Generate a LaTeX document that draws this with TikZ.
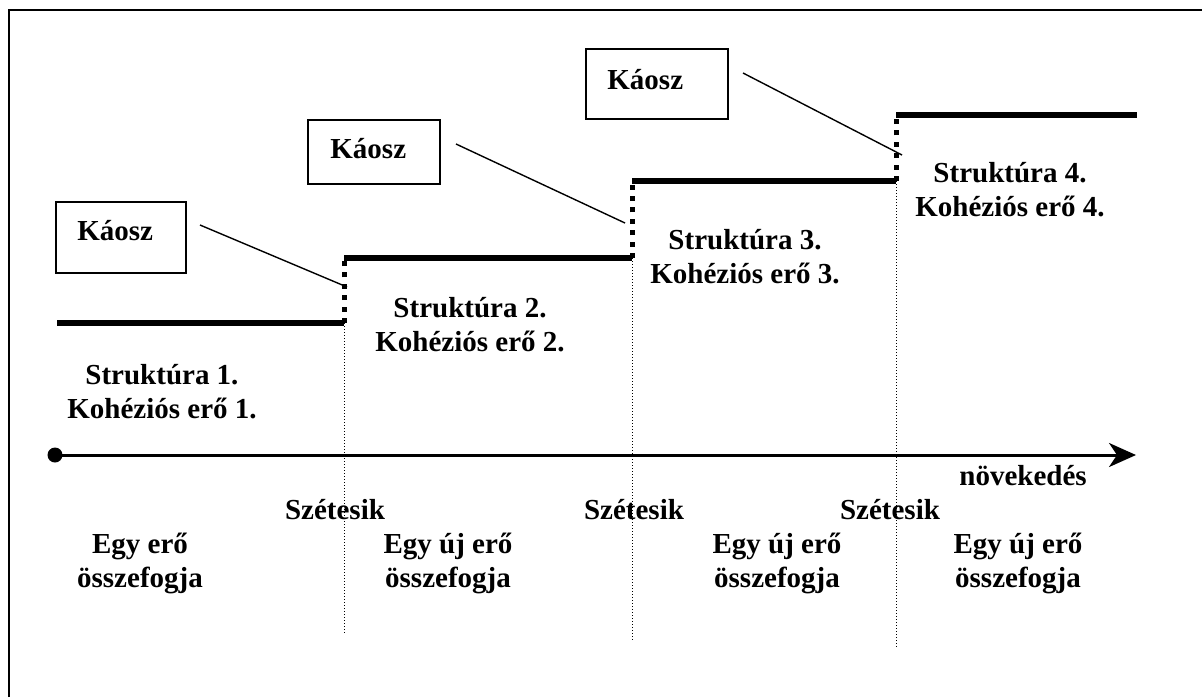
\documentclass[tikz,border=0pt]{standalone}
\usepackage{fontspec}
\setmainfont{Liberation Serif}
\usetikzlibrary{arrows.meta}
\begin{document}
\begin{tikzpicture}[x=0.5pt,y=-0.5pt,
  txt/.style={font=\fontsize{14.5pt}{17pt}\selectfont\bfseries, align=center, anchor=base, inner sep=0pt},
  ktxt/.style={font=\fontsize{14.5pt}{17pt}\selectfont\bfseries, anchor=base west, inner sep=0pt},
  kbox/.style={draw, line width=0.75pt, inner sep=0pt},
  level/.style={line width=3pt},
  stepline/.style={line width=2.5pt, dash pattern=on 2.5pt off 3.2pt},
  guide/.style={line width=0.5pt, dash pattern=on 0.5pt off 1pt},
  pointer/.style={line width=0.7pt},
  frameline/.style={line width=1pt}]
\useasboundingbox (0,0) rectangle (1202,697);
% frame
\draw[frameline] (8.5,697) -- (8.5,10) -- (1202,10);

% level coordinates
\coordinate (l1a) at (57,323);
\coordinate (l1b) at (344,323);
\coordinate (l2a) at (344,258);
\coordinate (l2b) at (632,258);
\coordinate (l3a) at (632,181);
\coordinate (l3b) at (896,181);
\coordinate (l4a) at (896,115);
\coordinate (l4b) at (1137,115);
\coordinate (g1) at (344,633);
\coordinate (g2) at (632,640);
\coordinate (g3) at (896,647);

% guides
\draw[guide] (l1b) -- (g1);
\draw[guide] (l2b) -- (g2);
\draw[guide] (l3b) -- (g3);

% levels
\draw[level] (l1a) -- (l1b);
\draw[level] (l2a) -- (l2b);
\draw[level] (l3a) -- (l3b);
\draw[level] (l4a) -- (l4b);

% steps
\draw[stepline] (l1b) -- (l2a);
\draw[stepline] (l2b) -- (l3a);
\draw[stepline] (l3b) -- (l4a);

% chaos boxes
\node[kbox, minimum width=65pt, minimum height=35.5pt] (k1) at (121,237.5) {};
\node[kbox, minimum width=66pt, minimum height=32pt] (k2) at (374,152) {};
\node[kbox, minimum width=71pt, minimum height=35pt] (k3) at (657,84) {};
\node[ktxt] (k1t) at (77,240) {Káosz};
\node[ktxt] (k2t) at (330,158) {Káosz};
\node[ktxt] (k3t) at (607,89) {Káosz};

\coordinate (p1a) at (200,225);
\coordinate (p1b) at (347,287);
\coordinate (p2a) at (456,144);
\coordinate (p2b) at (625,223);
\coordinate (p3a) at (743,73);
\coordinate (p3b) at (902,155);
\draw[pointer] (p1a) -- (p1b);
\draw[pointer] (p2a) -- (p2b);
\draw[pointer] (p3a) -- (p3b);

% axis
\node[circle, fill=black, inner sep=0pt, minimum size=7.5pt] (o) at (55,455) {};
\coordinate (axend) at (1136,455);
\draw[line width=1.5pt, -{Stealth[length=13.5pt, width=12pt, inset=4pt]}] (o.center) -- (axend);

% structure labels (anchor base = last line)
\node[txt] (s1) at (162,418) {Struktúra 1.\\Kohéziós erő 1.};
\node[txt] (s2) at (470,351) {Struktúra 2.\\Kohéziós erő 2.};
\node[txt] (s3) at (745,283) {Struktúra 3.\\Kohéziós erő 3.};
\node[txt] (s4) at (1010,216) {Struktúra 4.\\Kohéziós erő 4.};

\node[txt] (nov) at (1023,485) {növekedés};

\node[txt] (sz1) at (335,519) {Szétesik};
\node[txt] (sz2) at (634,519) {Szétesik};
\node[txt] (sz3) at (890,519) {Szétesik};

\node[txt] (e1) at (140,587) {Egy erő\\összefogja};
\node[txt] (e2) at (448,587) {Egy új erő\\összefogja};
\node[txt] (e3) at (777,587) {Egy új erő\\összefogja};
\node[txt] (e4) at (1018,587) {Egy új erő\\összefogja};
\end{tikzpicture}
\end{document}
